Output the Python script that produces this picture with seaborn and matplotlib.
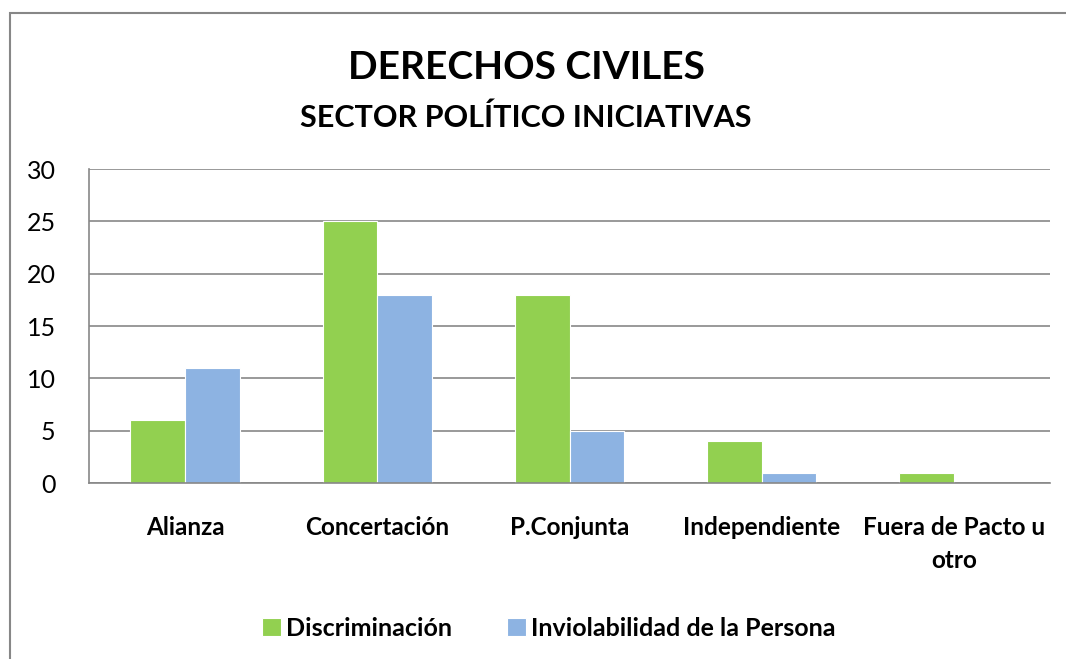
import pandas as pd
import seaborn as sns
import matplotlib.pyplot as plt
from matplotlib.patches import Rectangle

categories = ["Alianza", "Concertación", "P.Conjunta", "Independiente", "Fuera de Pacto u\notro"]
discriminacion = [6, 25, 18, 4, 1]
inviolabilidad = [11, 18, 5, 1, 0]
series_names = ["Discriminación", "Inviolabilidad de la Persona"]
colors = ["#92D050", "#8DB3E2"]

df = pd.DataFrame({
    "cat": categories * 2,
    "val": discriminacion + inviolabilidad,
    "serie": [series_names[0]] * 5 + [series_names[1]] * 5,
})

sns.set_style("white")
plt.rcParams['font.family'] = ['Lato', 'DejaVu Sans']
plt.rcParams['text.color'] = 'black'
plt.rcParams['xtick.color'] = 'black'
plt.rcParams['ytick.color'] = 'black'

fig = plt.figure(figsize=(10.66, 6.59), dpi=100)
ax = fig.add_axes([0.0835, 0.267, 0.9015, 0.4765])

sns.barplot(data=df, x="cat", y="val", hue="serie", palette=colors, saturation=1,
            width=0.57, edgecolor="white", linewidth=0.8, ax=ax)

ax.set_ylim(0, 30)
ax.set_yticks(range(0, 31, 5))
ax.yaxis.grid(True, color="#878787", linewidth=1.2)
ax.set_axisbelow(True)
for s in ["top", "right"]:
    ax.spines[s].set_visible(False)
for s in ["left", "bottom"]:
    ax.spines[s].set_color("#878787")
    ax.spines[s].set_linewidth(1.2)
ax.set_xlabel("")
ax.set_ylabel("")
ax.tick_params(axis="y", labelsize=18, length=0, pad=24)
ax.tick_params(axis="x", length=0, pad=24)
for lbl in ax.get_xticklabels():
    lbl.set_fontsize(17.5)
    lbl.set_fontweight("bold")
    lbl.set_verticalalignment("top")
    lbl.set_linespacing(1.5)

leg = ax.legend(loc="center", bbox_to_anchor=(0.515, 0.047), bbox_transform=fig.transFigure,
                ncol=2, frameon=False, handlelength=0.75, handleheight=0.75,
                handletextpad=0.2, columnspacing=2.2, prop={"weight": "bold", "size": 18})

fig.text(0.4935, 0.897, "DERECHOS CIVILES", ha="center", va="center",
         fontsize=28, fontweight="bold")
fig.text(0.493, 0.822, "SECTOR POLÍTICO INICIATIVAS", ha="center", va="center",
         fontsize=22, fontweight="bold")

fig.patches.append(Rectangle((0.0095, -0.01), 1.1, 0.99, transform=fig.transFigure,
                             fill=False, edgecolor="#878787", linewidth=1.5))

fig.savefig("out.png", dpi=100)
